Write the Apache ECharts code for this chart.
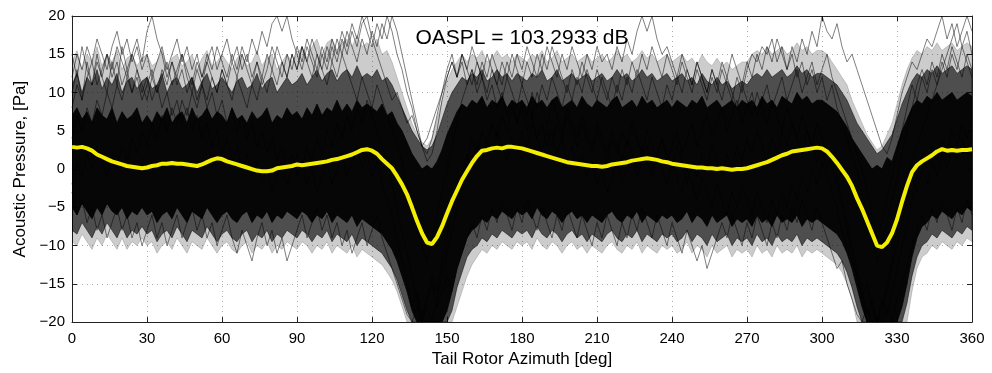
<!DOCTYPE html>
<html><head><meta charset="utf-8">
<script src="https://cdn.jsdelivr.net/npm/echarts@6/dist/echarts.min.js"></script>
<style>html,body{margin:0;padding:0;background:#fff}#c{width:992px;height:373px}</style>
</head><body><div id="c"></div>
<script>
// Azimuth sample positions [deg], every 2 deg
const azimuth = Array.from({length:181}, (_, i) => i * 2);
const xTicks = [0,30,60,90,120,150,180,210,240,270,300,330,360];
const yTicks = [-20,-15,-10,-5,0,5,10,15,20];
const titleText = 'OASPL = 103.2933 dB';

// Ensemble mean (yellow)
const meanPressure = [
 2.9,2.8,2.9,2.7,2.4,1.9,1.6,1.3,1.0,0.8,0.6,0.4,0.3,0.2,0.1,
 0.2,0.4,0.5,0.7,0.7,0.8,0.7,0.7,0.6,0.5,0.4,0.6,0.9,1.2,1.4,
 1.3,1.0,0.8,0.6,0.4,0.2,0.0,-0.2,-0.3,-0.3,-0.2,0.1,0.2,0.3,0.4,
 0.6,0.5,0.6,0.7,0.8,0.9,1.0,1.2,1.3,1.5,1.7,1.9,2.2,2.5,2.6,
 2.4,2.0,1.3,0.7,0.1,-0.9,-2.0,-3.3,-5.0,-6.8,-8.4,-9.6,-9.8,-8.9,-7.5,
 -5.8,-4.2,-2.8,-1.4,-0.3,0.8,1.7,2.4,2.5,2.7,2.8,2.7,2.9,2.9,2.8,
 2.7,2.5,2.3,2.1,1.9,1.7,1.5,1.3,1.1,0.9,0.8,0.7,0.6,0.5,0.4,
 0.4,0.3,0.4,0.6,0.7,0.8,0.9,1.1,1.2,1.3,1.4,1.3,1.2,1.0,0.9,
 0.7,0.6,0.5,0.4,0.3,0.2,0.2,0.1,0.1,0.0,0.1,0.0,-0.1,0.0,0.0,
 0.1,0.3,0.5,0.7,0.9,1.2,1.5,1.8,2.0,2.3,2.4,2.5,2.6,2.7,2.8,
 2.7,2.3,1.6,0.8,-0.1,-1.0,-2.2,-3.8,-5.2,-6.8,-8.4,-10.0,-10.2,-9.6,-8.4,
 -6.6,-4.3,-2.2,-0.4,0.5,1.0,1.4,1.8,2.3,2.6,2.4,2.5,2.4,2.5,2.5,
 2.6];

// Dense core of the ensemble (upper / lower edge)
const coreHigh = [
 7,8,6.5,7.5,6,8,7,6.5,8,6,7.5,6.5,7,8,6,
 7,6,7.5,6.5,8,6,7,7.5,6,8,6.5,7,8,6.5,7.5,
 7,6,8,6.5,7,6,7.5,6.5,7,8,6,7,6.5,8,7,
 7.5,6.5,8,7,8.5,7,8,7.5,9,7.5,8.5,7.5,9,8,8.5,
 8,7.5,8.5,7,7.5,6,5,3.5,2,1,0,0.5,0,1,2.5,
 4.5,6,7.5,8.5,8,9,8.5,9.5,8,9,8.5,9.5,8,9,8.5,
 9,8,9.5,8.5,9,8,9,9.5,8,8.5,9,8,9.5,8.5,8,
 9,8.5,8,9,9.5,8,8.5,9,8,9.5,8.5,9,8,8.5,9,
 8,9,8.5,8,9,8.5,9.5,8,8.5,9,8,8.5,9,8,9,
 8.5,9,8,9.5,8.5,9,8,9.5,9,8.5,10,9,9.5,8.5,9,
 9,8.5,8,7.5,6.5,5.5,4,3,2,1,0,0.5,0,1.5,1,
 3,5,6.5,8,9,8.5,9.5,9,10,9,9.5,10,9,9.5,10,
 9.5];
const coreLow = [
 -5,-6,-4.5,-5.5,-6.5,-5,-6,-4.5,-5.5,-6,-5,-6.5,-5.5,-6,-5,
 -6,-5.5,-7,-6,-5.5,-6.5,-5,-6,-7,-5.5,-6,-6.5,-5,-6,-7,
 -6,-5.5,-6.5,-7,-6,-5.5,-7,-6,-6.5,-5.5,-7,-6,-6.5,-5.5,-6,
 -6.5,-5.5,-6,-7,-6,-6.5,-5.5,-7,-6,-6.5,-7,-6,-7.5,-6.5,-7,
 -7.5,-8,-8.5,-9.5,-10.5,-12,-14,-16,-18.5,-20,-20,-20,-20,-20,-20,
 -18.5,-16,-13,-11,-9,-8,-7.5,-6.5,-7,-6,-6.5,-5.5,-6,-6.5,-5.5,
 -6,-5.5,-6.5,-5,-6,-6.5,-5.5,-6,-7,-6,-5.5,-6.5,-6,-7,-6,
 -6.5,-7,-6,-5.5,-6.5,-7,-6,-6.5,-5.5,-7,-6,-6.5,-7,-6,-6.5,
 -6,-7,-6.5,-5.5,-7,-6,-6.5,-7.5,-6,-7,-6.5,-6,-7.5,-6.5,-7,
 -6.5,-7.5,-6,-7,-6.5,-7.5,-6,-7,-6.5,-7,-6,-7.5,-6.5,-7,-6.5,
 -7,-7.5,-8,-8.5,-9.5,-11,-13,-15.5,-18,-20,-20,-20,-20,-20,-20,
 -20,-18,-15,-11.5,-9,-7.5,-7,-6,-6.5,-5.5,-6,-6.5,-5.5,-6,-5,
 -5.5];

// Semi-dense part of the ensemble
const spreadHigh = [
 11,12.5,10,12,11,13,10.5,12,11,12.5,10,11.5,12,10.5,11.5,
 12,10.5,11,12.5,10,11.5,12,10.5,11,12,10,11.5,12.5,10.5,11,
 12,11,10,11.5,12,10.5,11,12.5,10.5,11.5,12,10,11,12,11,
 11.5,12.5,11,12,13,11.5,12.5,13,11.5,12.5,13,12,13.5,12,12.5,
 12,13,11.5,12,11,9.5,8,6.5,5,4,3,2.5,3,4.5,6.5,
 8.5,10,11,12,11.5,12.5,12,13,11.5,12,13,12,12.5,11.5,12.5,
 12,11.5,12.5,12,13,11.5,12,13,11.5,12,12.5,11.5,12,12.5,11.5,
 12,12.5,11.5,12,13,12,12.5,11.5,12,13,12,12.5,11.5,12,12.5,
 11.5,12,12.5,11.5,12,11,12.5,11.5,11,12,11,11.5,10.5,11,11.5,
 11,12,12.5,12,13,12,12.5,13,12,12.5,13.5,12.5,13,12,12.5,
 12.5,12,11.5,11,10,9,7.5,6,5,4,3,2,2.5,3.5,4.5,
 6.5,8.5,10,11.5,12.5,12,13,12.5,13.5,12.5,13,13.5,12.5,13,13.5,
 13];
const spreadLow = [
 -8,-8.5,-7,-8,-9,-7.5,-8.5,-7,-8,-9,-7.5,-9,-8,-8.5,-7.5,
 -8.5,-8,-9.5,-8.5,-8,-9,-7.5,-8.5,-9.5,-8,-8.5,-9,-7.5,-8.5,-9.5,
 -8.5,-8,-9,-9.5,-8.5,-8,-9.5,-8.5,-9,-8,-9.5,-8.5,-9,-8,-8.5,
 -9,-8,-8.5,-9.5,-8.5,-9,-8,-9.5,-8.5,-9,-9.5,-8.5,-10,-9,-9.5,
 -10,-10.5,-11,-12,-13,-14.5,-16.5,-18.5,-20,-20,-20,-20,-20,-20,-20,
 -20,-18.5,-15.5,-13.5,-11.5,-10.5,-10,-9,-9.5,-8.5,-9,-8,-8.5,-9,-8,
 -8.5,-8,-9,-7.5,-8.5,-9,-8,-8.5,-9.5,-8.5,-8,-9,-8.5,-9.5,-8.5,
 -9,-9.5,-8.5,-8,-9,-9.5,-8.5,-9,-8,-9.5,-8.5,-9,-9.5,-8.5,-9,
 -8.5,-9.5,-9,-8,-9.5,-8.5,-9,-10,-8.5,-9.5,-9,-8.5,-10,-9,-9.5,
 -9,-10,-8.5,-9.5,-9,-10,-8.5,-9.5,-9,-9.5,-8.5,-10,-9,-9.5,-9,
 -9.5,-10,-10.5,-11,-12,-13.5,-15.5,-18,-20,-20,-20,-20,-20,-20,-20,
 -20,-20,-17.5,-14,-11.5,-10,-9.5,-8.5,-9,-8,-8.5,-9,-8,-8.5,-7.5,
 -8];

// Sparse outer fringe of the ensemble
const fringeHigh = [
 14,15.5,13,15,14,16,13.5,15,14,15.5,13,14.5,15,13.5,14.5,
 15,13.5,14,15.5,13,14.5,15,13.5,14,15,13,14.5,15.5,13.5,14,
 15,14,13,14.5,15,13.5,14,15.5,13.5,14.5,15,13,14,15,14,
 15,16,14.5,16,17,15,16.5,17,15.5,16.5,17,16,17.5,16,16.5,
 16,17,15,15.5,14,12,10,8,6,4.5,3.5,3,4,6.5,9,
 11.5,13,14,15,14,15,14.5,15.5,14,14.5,15.5,14.5,15,14,15,
 14.5,14,15,14.5,15.5,14,14.5,15.5,14,14.5,15,14,14.5,15,14,
 14.5,15,14,14.5,15.5,14.5,15,14,14.5,15.5,14.5,15,14,14.5,15,
 14,14.5,15,14,14.5,13.5,15,14,13.5,14.5,13.5,14,13,13.5,14,
 14,15,15.5,15,16,15,15.5,16,15,15.5,16.5,15.5,16,15,15.5,
 15.5,15,14,13,12,11,9,7.5,6,4.5,3.5,2.5,3,4.5,6,
 8.5,11,13,14.5,15.5,15,16,15.5,16.5,15.5,16,16.5,15.5,16,16.5,
 16];
const fringeLow = [
 -9.5,-10,-8.5,-9.5,-10.5,-9,-10,-8.5,-9.5,-10.5,-9,-10.5,-9.5,-10,-9,
 -10,-9.5,-11,-10,-9.5,-10.5,-9,-10,-11,-9.5,-10,-10.5,-9,-10,-11,
 -10,-9.5,-10.5,-11,-10,-9.5,-11,-10,-10.5,-9.5,-11,-10,-10.5,-9.5,-10,
 -10.5,-9.5,-10,-11,-10,-10.5,-9.5,-11,-10,-10.5,-11,-10,-11.5,-10.5,-11,
 -11.5,-12,-12.5,-13.5,-14.5,-16,-18,-20,-20,-20,-20,-20,-20,-20,-20,
 -20,-20,-18,-16,-14,-12.5,-11.5,-10.5,-11,-10,-10.5,-9.5,-10,-10.5,-9.5,
 -10,-9.5,-10.5,-9,-10,-10.5,-9.5,-10,-11,-10,-9.5,-10.5,-10,-11,-10,
 -10.5,-11,-10,-9.5,-10.5,-11,-10,-10.5,-9.5,-11,-10,-10.5,-11,-10,-10.5,
 -10,-11,-10.5,-9.5,-11,-10,-10.5,-11.5,-10,-11,-10.5,-10,-11.5,-10.5,-11,
 -10.5,-11.5,-10,-11,-10.5,-11.5,-10,-11,-10.5,-11,-10,-11.5,-10.5,-11,-10.5,
 -11,-11.5,-12,-12.5,-13.5,-15,-17,-20,-20,-20,-20,-20,-20,-20,-20,
 -20,-20,-20,-16,-13,-11.5,-11,-10,-10.5,-9.5,-10,-10.5,-9.5,-10,-9,
 -9.5];

// Individual revolutions reaching the fringes
const revA = [
 10,13,9,14,11,15,12,10,14,11,16,13,15,17,14,
 18,20,17,15,12,14,11,13,10,12,9,11,8,10,7,
 9,6,8,5,7,4,6,3,5,2,4,1,3,0,2,
 -1,1,-2,0,-3,-1,1,-2,0,2,-1,1,3,0,2,
 -1,1,-2,-4,-6,-9,-12,-15,-18,-16,-19,-17,-14,-16,-12,
 -9,-6,-3,-1,2,0,3,1,4,2,5,3,1,4,2,
 5,3,6,4,2,5,3,6,4,7,5,3,6,4,2,
 5,3,1,4,2,5,3,6,4,2,5,3,1,4,2,
 0,3,1,-2,1,-1,2,0,3,1,-1,2,0,3,1,
 4,2,5,3,1,4,2,5,3,6,4,2,5,3,1,
 3,0,2,-1,-4,-7,-10,-13,-16,-19,-17,-20,-18,-15,-12,
 -8,-5,-2,1,3,5,7,9,11,13,15,17,19,16,18,
 15];
const revB = [
 4,7,5,8,6,9,7,10,8,11,9,12,10,13,11,
 9,12,10,13,11,14,12,15,13,11,14,12,15,13,16,
 14,12,15,13,16,14,17,15,18,16,19,20,18,20,17,
 15,13,16,14,12,15,13,16,14,17,15,18,16,19,20,
 17,15,13,11,9,10,8,6,7,5,3,4,6,8,10,
 12,14,12,15,13,11,14,12,10,13,11,9,12,10,8,
 11,9,7,10,8,6,9,7,5,8,6,4,7,5,3,
 6,4,2,5,3,1,4,2,0,3,1,-1,2,0,-2,
 1,-1,-3,0,-2,-4,-1,-3,-5,-2,-4,-6,-3,-5,-2,
 -4,-6,-3,-5,-7,-4,-6,-3,-5,-2,-4,-1,-3,0,-2,
 1,-1,-3,-5,-8,-10,-12,-14,-17,-15,-18,-20,-17,-19,-16,
 -13,-10,-7,-4,-1,2,0,3,1,4,2,5,3,6,4,
 7];
const revC = [
 -2,1,-1,2,0,3,1,-1,2,0,3,1,4,2,5,
 3,6,4,7,5,8,6,9,7,10,8,11,9,12,10,
 13,11,14,12,15,13,11,14,12,15,13,16,14,12,15,
 13,16,14,17,15,13,16,14,17,15,18,16,14,17,15,
 18,16,19,17,20,18,15,12,9,6,3,1,2,5,9,
 12,14,12,15,13,16,14,12,15,13,11,14,12,15,13,
 11,14,12,15,13,16,14,12,15,13,16,14,12,15,13,
 16,14,15,13,16,14,17,15,18,20,18,20,17,15,16,
 14,12,15,13,11,14,12,10,13,11,9,12,10,8,11,
 9,7,10,8,6,9,7,5,8,6,4,7,5,3,6,
 4,2,0,-2,-5,-8,-11,-14,-17,-20,-18,-20,-19,-16,-13,
 -10,-7,-4,-1,-3,0,-2,1,-1,2,0,3,1,4,2,
 5];
const revD = [
 15,12,16,13,11,14,12,15,13,16,14,12,15,13,10,
 12,9,11,8,10,7,9,6,8,5,7,4,6,3,5,
 2,4,1,3,0,2,-1,1,-2,0,-3,-1,1,-2,0,
 2,0,3,1,4,2,5,3,6,4,7,5,8,6,9,
 7,5,3,1,-2,-5,-8,-11,-14,-17,-20,-18,-20,-17,-14,
 -11,-8,-5,-2,1,4,2,5,3,6,4,7,5,8,6,
 9,7,10,8,11,9,12,10,8,11,9,12,10,13,11,
 9,12,10,8,11,9,12,10,13,11,9,12,10,8,11,
 9,12,10,13,11,14,12,10,13,11,14,12,15,13,11,
 14,12,15,13,16,14,17,15,13,16,14,17,15,18,16,
 20,18,17,19,16,14,15,13,11,9,7,5,3,2,4,
 7,10,12,14,13,15,17,16,18,20,17,19,16,18,20,
 18];
const revE = [
 -3,-6,-4,-7,-5,-8,-6,-9,-7,-5,-8,-6,-9,-7,-10,
 -8,-6,-9,-7,-10,-8,-6,-9,-7,-5,-8,-6,-9,-7,-10,
 -8,-6,-9,-11,-8,-10,-12,-9,-7,-10,-8,-11,-9,-12,-10,
 -8,-6,-9,-7,-5,-8,-6,-9,-7,-10,-8,-11,-9,-7,-10,
 -8,-6,-9,-11,-13,-15,-17,-19,-20,-18,-20,-17,-15,-18,-16,
 -14,-16,-13,-11,-9,-7,-9,-6,-8,-5,-7,-4,-6,-8,-5,
 -7,-4,-6,-8,-5,-7,-9,-6,-8,-5,-7,-9,-6,-8,-10,
 -7,-9,-6,-8,-10,-7,-9,-6,-8,-5,-7,-9,-6,-8,-10,
 -7,-9,-11,-8,-10,-12,-10,-13,-11,-9,-7,-9,-6,-8,-10,
 -7,-9,-6,-8,-10,-7,-9,-6,-8,-5,-7,-4,-6,-8,-5,
 -7,-9,-11,-13,-12,-15,-17,-19,-20,-18,-20,-19,-20,-18,-20,
 -17,-15,-13,-10,-8,-6,-8,-5,-7,-4,-6,-8,-5,-7,-4,
 -6];
const revF = [
 8,11,9,12,14,11,13,15,12,14,11,13,10,12,9,
 11,13,10,12,14,11,13,15,12,10,13,11,14,12,10,
 13,11,9,12,10,8,11,9,12,10,13,11,14,12,15,
 13,16,14,12,15,13,11,14,12,15,13,11,9,12,10,
 8,11,9,7,5,3,1,-2,-4,-7,-10,-12,-9,-6,-3,
 0,3,6,9,11,13,11,14,12,15,13,11,14,12,15,
 13,16,14,12,15,13,16,14,12,10,13,11,14,12,10,
 13,11,9,12,10,13,11,14,12,15,13,16,14,12,15,
 13,11,14,12,10,13,11,9,12,10,13,11,9,12,10,
 13,15,14,16,15,17,14,16,13,15,12,14,11,13,10,
 12,9,11,8,6,4,2,0,-3,-6,-9,-12,-10,-7,-4,
 -1,2,5,8,11,13,11,14,12,15,13,16,14,12,15,
 13];
const revG = [
 12,15,13,16,14,17,15,13,16,18,15,17,14,16,13,
 15,12,14,16,13,15,17,14,16,13,15,12,14,16,13,
 15,17,14,16,13,15,12,14,11,13,16,14,12,15,13,
 16,14,17,15,13,16,14,17,15,18,16,19,17,20,18,
 16,19,17,20,18,15,13,10,8,5,3,2,4,7,10,
 13,15,12,14,11,13,10,12,9,11,8,10,7,9,6,
 8,5,7,4,6,3,5,2,4,1,3,0,2,-1,1,
 -2,0,-3,-1,1,-2,0,2,-1,1,3,0,2,4,1,
 3,5,2,4,6,3,5,7,4,6,8,5,7,9,6,
 8,10,7,9,11,8,10,12,9,11,13,10,12,14,11,
 13,15,12,10,8,6,4,2,0,-3,-6,-9,-7,-4,-1,
 2,5,8,11,9,12,10,13,11,14,12,15,13,16,14,
 12];
const revolutions = [revA, revB, revC, revD, revE, revF, revG];

const pairs = ys => azimuth.map((x, i) => [x, ys[i]]);
const FONT = 'Liberation Sans, Arial, Helvetica, sans-serif';

const series = [];
revolutions.forEach(r => series.push({
  type: 'line', data: pairs(r), symbol: 'none', silent: true, z: 3,
  lineStyle: { color: '#000', width: 1, opacity: 0.5 }
}));

// Filled band between two envelopes, drawn through the axis scales (api.coord)
function band(lo, hi, op, z) {
  series.push({
    type: 'custom', z: z, silent: true, clip: true,
    data: azimuth.map((x, i) => [x, lo[i], hi[i]]),
    encode: { x: 0, y: [1, 2] },
    renderItem: function (params, api) {
      if (params.dataIndex !== 0) return null;
      const pts = [];
      for (let i = 0; i < azimuth.length; i++) pts.push(api.coord([azimuth[i], hi[i]]));
      for (let i = azimuth.length - 1; i >= 0; i--) pts.push(api.coord([azimuth[i], lo[i]]));
      return { type: 'polygon', shape: { points: pts },
        style: { fill: 'rgba(0,0,0,' + op + ')', stroke: 'rgba(0,0,0,' + op + ')', lineWidth: 0.8 } };
    }
  });
}
band(fringeLow, fringeHigh, 0.2, 2);
band(spreadLow, spreadHigh, 0.62, 4);
band(coreLow, coreHigh, 0.92, 5);
series.push({ type: 'line', data: pairs(meanPressure), symbol: 'none', silent: true, z: 6,
  lineStyle: { color: '#f4ee00', width: 4 } });

const chart = echarts.init(document.getElementById('c'), null, { renderer: 'canvas' });
const axisCommon = {
  axisLine: { show: true, onZero: false, lineStyle: { color: '#222', width: 1 } },
  axisTick: { show: true, inside: true, length: 5, lineStyle: { color: '#222' } },
};
chart.setOption({
  animation: false,
  backgroundColor: '#fff',
  textStyle: { fontFamily: FONT },
  grid: { left: 72, right: 20, top: 16, bottom: 46, containLabel: false },
  graphic: [{ type: 'text', x: 522, y: 28, z: 100,
    style: { text: titleText, font: '21px ' + FONT, fill: '#000', textAlign: 'center', textVerticalAlign: 'top' } }],
  xAxis: [
    Object.assign({ type: 'value', min: xTicks[0], max: xTicks[xTicks.length - 1], interval: 30, position: 'bottom',
      axisLabel: { fontSize: 15, color: '#000', margin: 9, fontFamily: FONT },
      splitLine: { show: true, lineStyle: { type: [1, 4], color: '#aaa' } },
      name: 'Tail Rotor Azimuth [deg]', nameLocation: 'middle', nameGap: 28,
      nameTextStyle: { fontSize: 17, color: '#000', fontFamily: FONT } }, axisCommon),
    Object.assign({ type: 'value', min: 0, max: 360, interval: 30, position: 'top',
      axisLabel: { show: false }, splitLine: { show: false } }, axisCommon)
  ],
  yAxis: [
    Object.assign({ type: 'value', min: yTicks[0], max: yTicks[yTicks.length - 1], interval: 5, position: 'left',
      axisLabel: { fontSize: 15, color: '#000', margin: 7, fontFamily: FONT,
        formatter: v => String(v).replace('-', '\u2212') },
      splitLine: { show: true, lineStyle: { type: [1, 4], color: '#aaa' } },
      name: 'Acoustic Pressure, [Pa]', nameLocation: 'middle', nameGap: 36, nameRotate: 90,
      nameTextStyle: { fontSize: 17, color: '#000', fontFamily: FONT } }, axisCommon),
    Object.assign({ type: 'value', min: -20, max: 20, interval: 5, position: 'right',
      axisLabel: { show: false }, splitLine: { show: false } }, axisCommon)
  ],
  series: series
});
</script></body></html>
